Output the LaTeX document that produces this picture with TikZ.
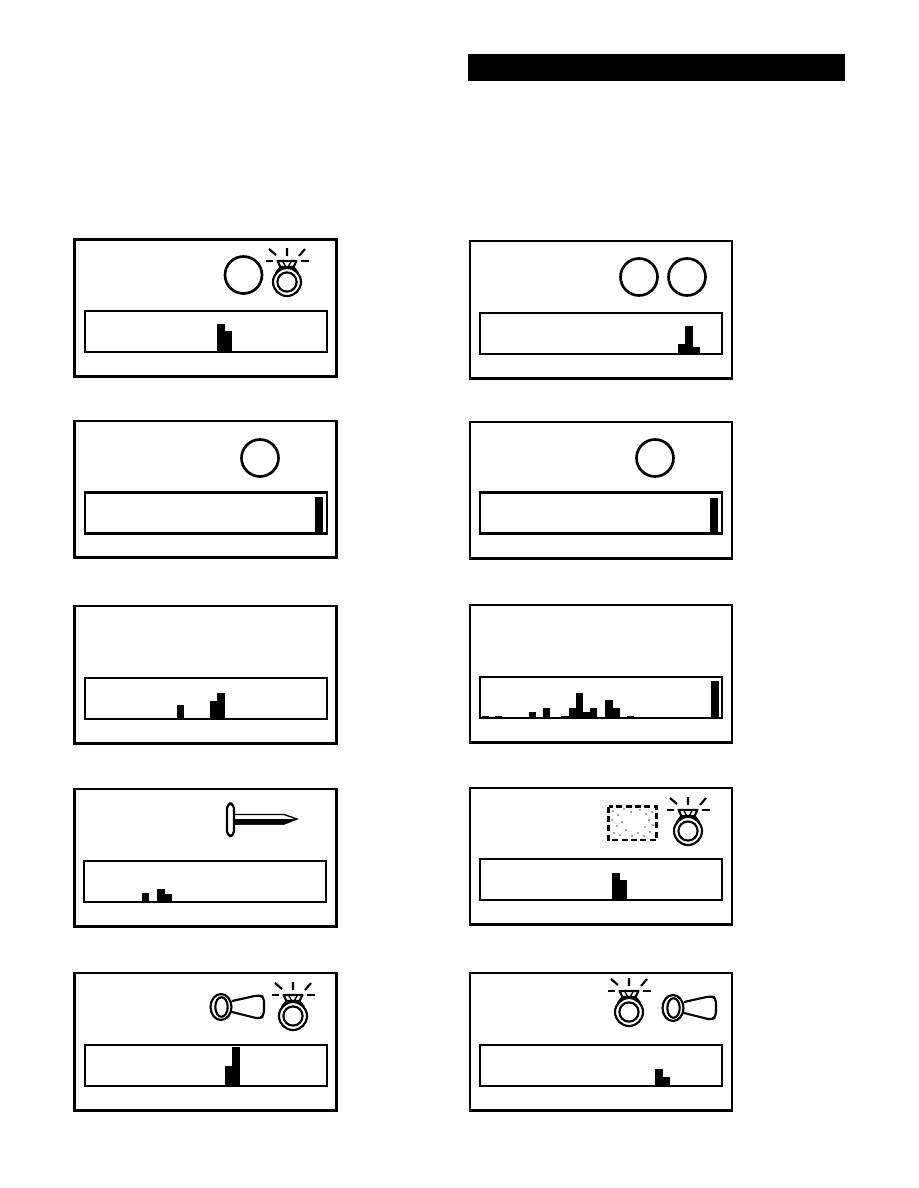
\documentclass[tikz,border=0pt]{standalone}
\tikzset{
  outerbox/.style={line width=2.05pt},
  innerbox/.style={line width=2pt},
  dial/.style={line width=2pt},
  ringline/.style={line width=1.6pt,line join=round},
  ringicon/.pic={
    \draw[ringline] (0,0) circle (14);
    \draw[ringline] (0,0) circle (9.6);
    % stone on top of the band
    \draw[ringline,fill=white] (-9.5,-21)--(9.5,-21)--(6.5,-15)--(-6.5,-15)--cycle;
    \draw[ringline] (-6.5,-15)--(-11,-9) (6.5,-15)--(11,-9);
    \draw[line width=1pt] (-4,-20)--(-1,-15) (4,-20)--(1,-15);
    \draw[line width=2.2pt] (-9.5,-21)--(9.5,-21);
    % sparkle
    \draw[ringline] (0,-34)--(0,-26) (-18,-33)--(-11,-27) (18,-33)--(12,-26);
    \draw[ringline] (-21,-21)--(-14,-21) (14,-21)--(22,-21);
  },
  hornicon/.pic={
    \draw[ringline,rounded corners=3pt] (11,-6)--(38,-12)--(43,-10)--(43,8)--(39,12)--(11,5);
    \draw[ringline,fill=white] (0,0) ellipse (10.5 and 13);
    \draw[ringline] (0.5,0) ellipse (6.2 and 9.8);
  }
}
\begin{document}
\begin{tikzpicture}[x=0.75pt,y=-0.75pt]
  \useasboundingbox (0,0) rectangle (918,1188);
  \fill (468,54) rectangle (845,81);
  % panels: outer frame, then the readout strip
  \foreach \xa/\ya/\xb/\yb/\xc/\yc in {
    74.5/239.5/336.5/376.5/85/311, 470/241/732/378.5/480/313,
    74.5/421/336.5/557.5/85/492.5, 470/422/732/558.5/480/492.5,
    74.5/606/336.5/743.5/85/678, 470/605/732/742.5/480/677,
    74.5/789/336.5/926.5/84/861, 470/788/732/924.5/480/859,
    74.5/973/336.5/1110.5/85/1045, 470/973/732/1110.5/480/1045} {
    \draw[outerbox] (\xa,\ya) rectangle (\xb,\yb);
    \draw[innerbox] (\xc,\yc) rectangle +(242,41);
  }
  % bars, all standing on the bottom of their strip
  \foreach \xa/\xb/\yt/\yb in {
    217/225/324/352, 225/232/331/352,
    678/685/344/354, 685/693/326/354, 693/700/347/354,
    315/323/497/534, 710/718/498/534,
    177/184/705/719, 210/217/701/719, 217/225/693/719,
    482/489/716/718, 495/502/716/718, 529/536/712/718, 543/550/708/718,
    561/569/716/718, 569/576/708/718, 576/583/693/718, 583/590/712/718,
    590/597/708/718, 605/613/700/718, 613/620/708/718, 627/634/716/718,
    711/719/681/718,
    142/149/893/902, 157/165/889/902, 165/172/894/902,
    612/620/873/901, 620/627/880/901,
    225/232/1066/1086, 232/240/1047/1086,
    655/663/1069/1086, 663/670/1077/1086} {
    \fill (\xa,\yt) rectangle (\xb,\yb);
  }
  % dials
  \foreach \cx/\cy in {243.5/275, 639/277, 687/277, 260/458, 655/458} {
    \draw[dial] (\cx,\cy) circle (18.5);
  }
  \pic at (287,282) {ringicon};
  \pic at (688,831) {ringicon};
  \pic at (293,1016) {ringicon};
  \pic at (629,1012) {ringicon};
  \pic at (221,1007) {hornicon};
  \pic at (673,1008) {hornicon};
  % nail
  \draw[ringline,rounded corners=3.5pt] (227,803.5) rectangle (234,836);
  \draw[line width=1pt] (234,814.5)--(284,814.5)--(297,819)--(284,824)--(234,824);
  \fill (234,819)--(297,819)--(284,824.5)--(234,824.5)--cycle;
  % dashed plate with speckle
  \draw[line width=2pt,dash pattern=on 4.5pt off 2.5pt] (608.5,806.5) rectangle (656.5,840);
  \foreach \dx/\dy in {
    613/811, 618/815, 624/809, 631/812, 640/810, 646/814, 652/812,
    612/820, 617/826, 622/822, 649/820, 653/825, 645/827,
    614/833, 620/835, 626/830, 632/836, 638/833, 644/836, 650/832} {
    \fill[black!70] (\dx,\dy) circle (0.9);
  }
\end{tikzpicture}
\end{document}
